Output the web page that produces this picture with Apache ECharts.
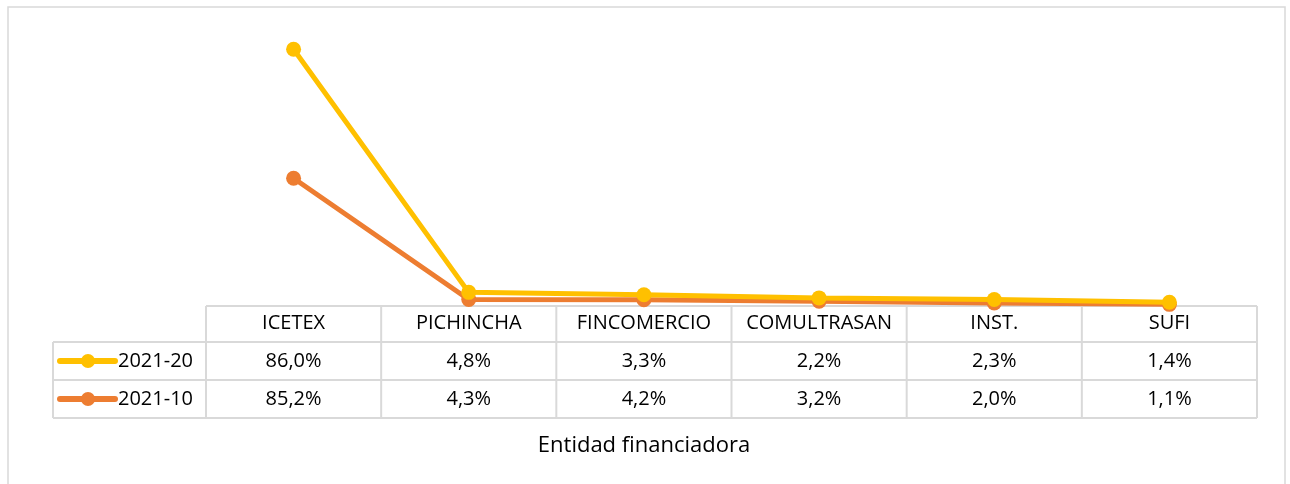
<!DOCTYPE html>
<html>
<head>
<meta charset="utf-8">
<script src="https://cdn.jsdelivr.net/npm/echarts@6/dist/echarts.min.js"></script>
<style>
  html, body { margin: 0; padding: 0; background: #fff; }
  #chartBox { width: 1290px; height: 484px; }
</style>
</head>
<body>
<div id="chartBox"></div>
<script>
// datos
const categories = ["ICETEX", "PICHINCHA", "FINCOMERCIO", "COMULTRASAN", "INST.", "SUFI"];
const serie2021_20 = [86.0, 4.8, 3.3, 2.2, 2.3, 1.4];
const serie2021_10 = [85.2, 4.3, 4.2, 3.2, 2.0, 1.1];
const seriesNames = ["2021-20", "2021-10"];
const seriesColors = ["#FFC000", "#ED7D31"];
const axisTitle = "Entidad financiadora";

const FONT = "'Open Sans', sans-serif";
const gridColor = "#d9d9d9";

const chart = echarts.init(document.getElementById("chartBox"));

const fmt = v => v.toFixed(1).replace(".", ",") + "%";

chart.setOption({
  backgroundColor: "#fff",
  animation: false,
  grid: { left: 206, right: 33, top: 6, bottom: 178 },
  xAxis: {
    type: "category",
    data: categories,
    boundaryGap: true,
    axisLine: { show: false },
    axisTick: { show: false },
    splitLine: { show: false },
    axisLabel: { interval: 0, hideOverlap: false, margin: 7, color: "#000", fontSize: 20, fontFamily: FONT }
  },
  yAxis: { type: "value", min: 0, max: 200, show: false },
  series: [
    {
      // serie base (abajo)
      name: seriesNames[1],
      type: "line",
      stack: "total",
      data: serie2021_10,
      symbol: "circle",
      symbolSize: 15,
      lineStyle: { width: 5, color: seriesColors[1] },
      itemStyle: { color: seriesColors[1] },
      z: 2
    },
    {
      name: seriesNames[0],
      type: "line",
      stack: "total",
      data: serie2021_20,
      symbol: "circle",
      symbolSize: 15,
      lineStyle: { width: 5, color: seriesColors[0] },
      itemStyle: { color: seriesColors[0] },
      z: 3
    }
  ]
});

// tabla de datos debajo del grafico
function buildTable() {
  const rows = [serie2021_20, serie2021_10];
  const half = chart.convertToPixel({ xAxisIndex: 0 }, 1) - chart.convertToPixel({ xAxisIndex: 0 }, 0);
  const x0 = chart.convertToPixel({ xAxisIndex: 0 }, 0) - half / 2;
  const x1 = x0 + half * categories.length;
  const yTop = chart.convertToPixel({ yAxisIndex: 0 }, 0);
  const rowH = [36, 38, 38];
  const ys = [yTop, yTop + rowH[0], yTop + rowH[0] + rowH[1], yTop + rowH[0] + rowH[1] + rowH[2]];
  const legendLeft = 53;
  const els = [];
  const line = (xa, ya, xb, yb) => els.push({
    type: "line", shape: { x1: xa, y1: ya, x2: xb, y2: yb },
    style: { stroke: gridColor, lineWidth: 2 }, silent: true
  });
  // borde exterior
  els.push({
    type: "rect", shape: { x: 8, y: 7, width: 1277, height: 500 },
    style: { fill: null, stroke: gridColor, lineWidth: 1.5 }, silent: true
  });
  // lineas horizontales
  line(x0, ys[0], x1, ys[0]);
  for (let r = 1; r < 4; r++) line(legendLeft, ys[r], x1, ys[r]);
  // lineas verticales
  for (let c = 0; c <= categories.length; c++) {
    const x = x0 + c * half;
    line(x, ys[0], x, ys[3]);
  }
  line(legendLeft, ys[1], legendLeft, ys[3]);

  rows.forEach((vals, r) => {
    const cy = (ys[r + 1] + ys[r + 2]) / 2;
    // leyenda
    els.push({ type: "line", shape: { x1: 60, y1: cy, x2: 115, y2: cy },
      style: { stroke: seriesColors[r], lineWidth: 6, lineCap: "round" } });
    els.push({ type: "circle", shape: { cx: 88, cy: cy, r: 7 },
      style: { fill: seriesColors[r] } });
    els.push({ type: "text", x: 118, y: cy,
      style: { text: seriesNames[r], fill: "#000", font: "20px " + FONT, verticalAlign: "middle", align: "left" } });
    vals.forEach((v, i) => {
      els.push({ type: "text", x: chart.convertToPixel({ xAxisIndex: 0 }, i), y: cy,
        style: { text: fmt(v), fill: "#000", font: "20px " + FONT, align: "center", verticalAlign: "middle" } });
    });
  });
  // titulo del eje
  els.push({ type: "text", x: 644, y: 446,
    style: { text: axisTitle, fill: "#000", font: "22px " + FONT, align: "center", verticalAlign: "middle" } });
  chart.setOption({ graphic: { elements: els } });
}
buildTable();
</script>
</body>
</html>
